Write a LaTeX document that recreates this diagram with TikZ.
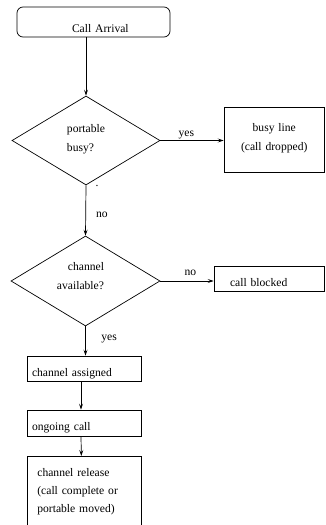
\documentclass[tikz,border=0pt]{standalone}
\usepackage{fontspec}
\setmainfont{Liberation Serif}
\usetikzlibrary{shapes.geometric,arrows.meta}
\tikzset{
  base/.style={font=\fontsize{11.6}{19}\selectfont, line width=0.7pt},
  box/.style={base, draw, rectangle, inner sep=0pt, align=left},
  dia/.style={base, draw, diamond, inner sep=0pt},
  diatext/.style={font=\fontsize{11.6}{19}\selectfont, inner sep=0pt},
  flow/.style={line width=0.7pt, -{Stealth[length=6pt,width=4pt,inset=2.5pt]}},
  lbl/.style={font=\fontsize{11.6}{14}\selectfont, inner sep=0pt}
}
\begin{document}
\begin{tikzpicture}[x=1pt,y=-1pt]
\useasboundingbox (0,0) rectangle (325,525);

\node[box, rounded corners=6pt, text width=153pt, text height=25pt, text depth=5pt] (arr) at (93.5,22) {\hspace*{55pt}Call Arrival};

\node[dia, minimum width=148pt, minimum height=89pt,
  label={[diatext, align=left, yshift=1.7pt]center:portable\\busy?}] (d1) at (86,140.5) {};

\node[box, minimum width=100.5pt, text width=100.5pt, align=center, text height=24pt, text depth=41pt, font=\fontsize{11.6}{19.6}\selectfont] (busy) at (274.25,139.5) {busy line\\(call dropped)};

\node[lbl] (dot) at (97,186) {.};

\node[dia, minimum width=149pt, minimum height=90pt,
  label={[diatext, align=right, yshift=5.4pt, xshift=-5pt]center:channel\\available?}] (d2) at (85.5,281) {};

\node[box, inner xsep=16pt, text width=78.5pt, text height=20pt, text depth=5pt] (blocked) at (269.25,278.5) {call blocked};

\node[box, inner xsep=5pt, text width=104pt, text height=20pt, text depth=5pt] (ca) at (84,368.5) {channel assigned};

\node[box, inner xsep=5pt, text width=104pt, text height=20pt, text depth=6pt] (og) at (84,423) {ongoing call};

\node[box, anchor=north west, inner xsep=10pt, text width=94pt, text height=20pt, text depth=80pt, font=\fontsize{11.6}{17.9}\selectfont] (rel) at (27,456) {channel release\\(call complete or\\portable moved)};

\draw[flow] (d1.north |- arr.south) -- (d1.north);
\draw[flow] (d1.east) -- node[lbl, pos=0.41, anchor=base, yshift=4pt] {yes} (d1.east -| busy.west);
\draw[flow] (d1.south) -- node[lbl, pos=0.64, anchor=base west, xshift=10pt] {no} (d2.north);
\draw[flow] (d2.east) -- node[lbl, pos=0.565, anchor=base, yshift=5.3pt] {no} (d2.east -| blocked.west);
\draw[flow] (d2.south) -- node[lbl, pos=0.49, anchor=base west, xshift=15.5pt] {yes} (d2.south |- ca.north);
\draw[flow] ([xshift=-3pt]ca.south) -- ([xshift=-3pt]og.north);
\draw[flow] ([xshift=-3pt]og.south) -- ([xshift=-3pt]rel.north);
\end{tikzpicture}
\end{document}
